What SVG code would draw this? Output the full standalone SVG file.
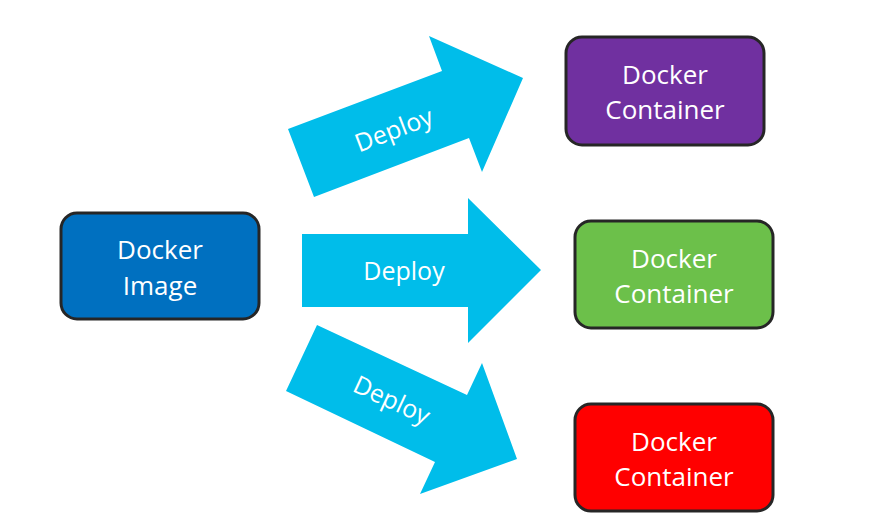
<svg xmlns="http://www.w3.org/2000/svg" width="870" height="516" viewBox="0 0 870 516">
<style>
.node{stroke:#262626;stroke-width:3}
.t{font-family:"Open Sans","Liberation Sans",sans-serif;font-size:26px;fill:#fff;text-anchor:middle}
.arrow{fill:#00BDEA}
.lbl{font-family:"Open Sans","Liberation Sans",sans-serif;font-size:25px;fill:#fff;text-anchor:middle}
</style>
<rect width="870" height="516" fill="#fff"/>
<g id="connectors">
<g id="arrow-top">
<polygon class="arrow" points="288,129 442,71 429,36 523,78 482,172 469,138 314,197"/>
<text class="lbl" transform="translate(397,138) rotate(-21)">Deploy</text>
</g>
<g id="arrow-mid">
<polygon class="arrow" points="302,234 468,234 468,198 541,270 468,343 468,307 302,307"/>
<text class="lbl" x="404" y="280">Deploy</text>
</g>
<g id="arrow-bottom">
<polygon class="arrow" points="317,325 467,395 482,363 517,459 420,494 435,462 286,391"/>
<text class="lbl" transform="translate(388,408) rotate(25)">Deploy</text>
</g>
</g>
<g id="image">
<rect class="node" x="61" y="213" width="198" height="106" rx="16" fill="#0070C0"/>
<text class="t" x="160" y="259">Docker</text>
<text class="t" x="160" y="295">Image</text>
</g>
<g id="container-purple">
<rect class="node" x="566" y="37" width="198" height="108" rx="16" fill="#7030A0"/>
<text class="t" x="665" y="84">Docker</text>
<text class="t" x="665" y="119">Container</text>
</g>
<g id="container-green">
<rect class="node" x="575" y="221" width="198" height="107" rx="16" fill="#6CC04A"/>
<text class="t" x="674" y="268">Docker</text>
<text class="t" x="674" y="303">Container</text>
</g>
<g id="container-red">
<rect class="node" x="575" y="404" width="198" height="107" rx="16" fill="#FF0000"/>
<text class="t" x="674" y="451">Docker</text>
<text class="t" x="674" y="486">Container</text>
</g>
</svg>
